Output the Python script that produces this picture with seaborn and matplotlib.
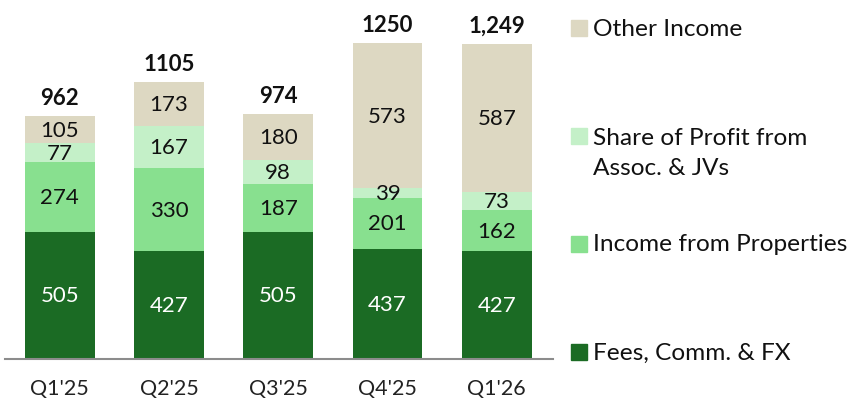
import numpy as np
import pandas as pd
import matplotlib
matplotlib.use("Agg")
import matplotlib.pyplot as plt
import seaborn as sns
from matplotlib.patches import Rectangle

quarters = ["Q1'25", "Q2'25", "Q3'25", "Q4'25", "Q1'26"]
fees = [505, 427, 505, 437, 427]
properties = [274, 330, 187, 201, 162]
share_profit = [77, 167, 98, 39, 73]
other_income = [105, 173, 180, 573, 587]
totals = ["962", "1105", "974", "1250", "1,249"]

series_names = ["Fees, Comm. & FX", "Income from Properties",
                "Share of Profit from\nAssoc. & JVs", "Other Income"]
series_values = [fees, properties, share_profit, other_income]
colors = ["#1b6b24", "#88e08f", "#c4f0c8", "#ddd8c2"]
text_colors = ["white", "#111111", "#111111", "#111111"]

sns.set_style("white")
plt.rcParams["font.family"] = ["Lato", "DejaVu Sans"]

fig = plt.figure(figsize=(8.5, 4.02), dpi=100)
ax = fig.add_axes([0.006, 0.1045, 0.644, 0.8955])

df = pd.DataFrame({"quarter": quarters})
cum = np.cumsum(np.array(series_values), axis=0)

# draw from the top layer down so each bar covers the one beneath
for i in reversed(range(len(series_names))):
    df["top"] = cum[i]
    sns.barplot(data=df, x="quarter", y="top", color=colors[i], saturation=1,
                width=0.64, linewidth=0, ax=ax)

for i in range(len(series_names)):
    bottoms = cum[i] - np.array(series_values[i])
    for j, v in enumerate(series_values[i]):
        ax.text(j, bottoms[j] + v / 2, str(v), ha="center", va="center",
                fontsize=16, color=text_colors[i])

for j, t in enumerate(totals):
    ax.annotate(t, (j, cum[-1][j]), xytext=(0, 6), textcoords="offset points",
                ha="center", va="bottom", fontsize=16, fontweight="bold", color="#111111")

ax.set_xlim(-0.5, 4.51)
ax.set_ylim(0, 1426)
ax.set_xlabel("")
ax.set_ylabel("")
ax.set_yticks([])
ax.tick_params(axis="x", length=0, pad=14, labelsize=15.5, labelcolor="#222222")
for s in ["top", "right", "left"]:
    ax.spines[s].set_visible(False)
ax.spines["bottom"].set_color("#8c8c8c")
ax.spines["bottom"].set_linewidth(1.5)

# legend, laid out like the original slide
legend_y = [353, 245, 137, 29]
for i, name in enumerate(series_names):
    yf = 1 - legend_y[i] / 402
    fig.patches.append(Rectangle((571 / 850, yf - 8 / 402), 16 / 850, 16 / 402,
                                 transform=fig.transFigure, color=colors[i]))
    ty = yf - 16.5 / 402 if "\n" in name else yf
    fig.text(593 / 850, ty, name, ha="left", va="center", fontsize=17.6,
             color="#111111", linespacing=1.55)

fig.savefig("out.png", dpi=100)
